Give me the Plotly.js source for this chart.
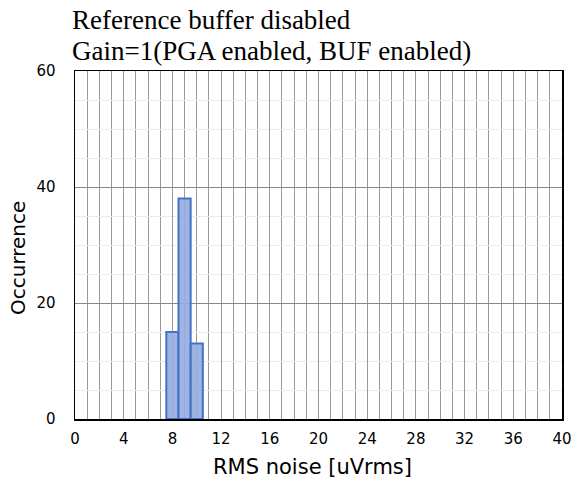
<!DOCTYPE html>
<html>
<head>
<meta charset="utf-8">
<script src="https://cdn.plot.ly/plotly-3.0.1.min.js"></script>
<style>html,body{margin:0;padding:0;background:#fff;}#chart{width:574px;height:479px;}</style>
</head>
<body>
<div id="chart"></div>
<script>
const binCenters = [8, 9, 10];
const occurrences = [15, 38, 13];
const xTickVals = [0, 4, 8, 12, 16, 20, 24, 28, 32, 36, 40];
const yTickVals = [0, 20, 40, 60];
const titleLines = ["Reference buffer disabled", "Gain=1(PGA enabled, BUF enabled)"];
const xTitle = 'RMS noise [uVrms]';
const yTitle = 'Occurrence';

const trace = {
  type: 'bar',
  x: binCenters,
  y: occurrences,
  width: 1,
  marker: {color: 'rgba(150,172,225,0.9)', line: {color: '#4472c4', width: 2}},
  hoverinfo: 'skip'
};

const sans = 'DejaVu Sans, Verdana, sans-serif';
const serif = 'Liberation Serif, Times New Roman, serif';
const plotTop = 71, plotH = 348, plotL = 75, plotW = 487;

function py(pix) { return 1 - (pix - plotTop) / plotH; }
function px(pix) { return (pix - plotL) / plotW; }

const layout = {
  width: 574, height: 479,
  margin: {l: 75, r: 12, t: 71, b: 60},
  paper_bgcolor: '#fff', plot_bgcolor: '#fff',
  showlegend: false,
  bargap: 0,
  annotations: [
    {text: titleLines[0], xref: 'paper', yref: 'paper', x: px(70), y: py(20),
     xanchor: 'left', yanchor: 'middle', showarrow: false,
     font: {family: serif, size: 27, color: '#000'}},
    {text: titleLines[1], xref: 'paper', yref: 'paper', x: px(70), y: py(51),
     xanchor: 'left', yanchor: 'middle', showarrow: false,
     font: {family: serif, size: 27, color: '#000'}},
    {text: xTitle, xref: 'paper', yref: 'paper', x: px(312), y: py(467),
     xanchor: 'center', yanchor: 'middle', showarrow: false,
     font: {family: sans, size: 21, color: '#000'}},
    {text: yTitle, xref: 'paper', yref: 'paper', x: px(18), y: py(258),
     xanchor: 'center', yanchor: 'middle', showarrow: false, textangle: -90,
     font: {family: sans, size: 20, color: '#000'}}
  ],
  xaxis: {
    range: [0, 40], tickvals: xTickVals, ticks: '',
    showgrid: true, gridcolor: '#999', gridwidth: 1,
    minor: {dtick: 1, tick0: 0, showgrid: true, gridcolor: '#999', gridwidth: 1, ticks: ''},
    showline: true, linecolor: '#000', linewidth: 1.5, mirror: true,
    zeroline: false, ticklabelstandoff: 5,
    tickfont: {family: sans, size: 15, color: '#000'}
  },
  yaxis: {
    range: [0, 60], tickvals: yTickVals, ticks: '',
    showgrid: true, gridcolor: '#888', gridwidth: 1,
    minor: {dtick: 5, tick0: 0, showgrid: true, gridcolor: '#ececec', gridwidth: 1, ticks: ''},
    showline: true, linecolor: '#000', linewidth: 1.5, mirror: true,
    zeroline: false, ticklabelstandoff: 15,
    tickfont: {family: sans, size: 15, color: '#000'}
  }
};

Plotly.newPlot('chart', [trace], layout, {displayModeBar: false, staticPlot: true});
</script>
</body>
</html>
